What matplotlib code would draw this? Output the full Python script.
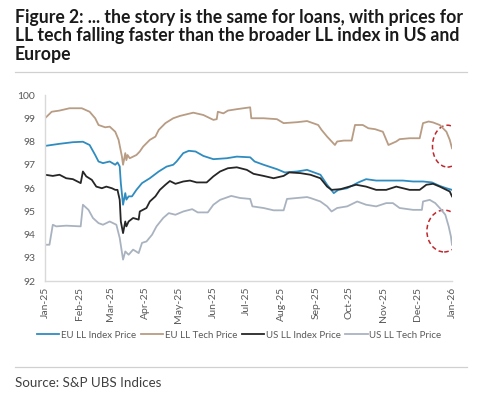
#!/usr/bin/env python3

import numpy as np
import matplotlib
matplotlib.use('Agg')
import matplotlib.pyplot as plt
import matplotlib.dates as mdates
from matplotlib.patches import Ellipse

plt.rcParams['font.family'] = ['Lato', 'DejaVu Sans']

# Series (day offset from 1 Jan 2025, price)
eu_tech_day = [0, 6, 13, 22, 33, 40, 45, 48, 54, 58, 63, 66, 69, 70, 72, 73, 74, 76, 82, 85,
	88, 94, 99, 102, 108, 115, 121, 133, 142, 151, 154, 155, 160, 164, 172, 184, 185, 196,
	208, 214, 226, 235, 245, 248, 253, 260, 262, 268, 275, 278, 285, 290, 296, 303, 308,
	315, 318, 327, 336, 339, 344, 348, 354, 360, 363, 365]
eu_tech_val = [99.0, 99.28, 99.33, 99.43, 99.43, 99.28, 99.0, 98.71, 98.61, 98.64, 98.42,
	98.07, 97.35, 97.0, 97.5, 97.2, 97.42, 97.28, 97.42, 97.57, 97.78, 98.07, 98.21, 98.5,
	98.79, 99.0, 99.1, 99.24, 99.14, 98.93, 98.96, 99.28, 99.21, 99.33, 99.39, 99.47, 99.0,
	99.0, 98.96, 98.79, 98.83, 98.88, 98.71, 98.5, 98.21, 97.85, 98.0, 98.04, 98.04, 98.71,
	98.71, 98.57, 98.53, 98.42, 97.85, 98.0, 98.1, 98.14, 98.14, 98.79, 98.86, 98.82, 98.71,
	98.42, 98.07, 97.71]

eu_idx_day = [0, 13, 25, 34, 40, 45, 48, 52, 58, 63, 65, 67, 68, 70, 72, 73, 75, 78, 82, 87,
	94, 102, 109, 115, 118, 124, 129, 135, 142, 151, 163, 172, 184, 188, 196, 208, 215, 226,
	235, 247, 253, 259, 263, 271, 281, 288, 297, 321, 330, 339, 347, 354, 360, 365]
eu_idx_val = [97.81, 97.9, 97.97, 97.99, 97.85, 97.42, 97.14, 97.07, 97.14, 97.0, 97.1, 96.93,
	96.21, 95.28, 95.78, 95.5, 95.64, 95.64, 95.92, 96.21, 96.42, 96.71, 96.92, 97.0, 97.14,
	97.5, 97.6, 97.57, 97.38, 97.24, 97.28, 97.35, 97.32, 97.14, 97.0, 96.81, 96.67, 96.71,
	96.78, 96.57, 96.14, 95.78, 95.92, 95.99, 96.24, 96.38, 96.32, 96.32, 96.28, 96.28, 96.24,
	96.09, 95.99, 95.92]

us_idx_day = [0, 7, 13, 19, 25, 32, 34, 37, 42, 46, 51, 55, 60, 63, 65, 67, 68, 70, 72, 73,
	75, 79, 84, 85, 91, 94, 99, 103, 108, 112, 117, 124, 130, 136, 145, 151, 157, 164, 172,
	181, 187, 196, 205, 214, 219, 229, 238, 247, 253, 257, 265, 273, 279, 288, 297, 306, 315,
	327, 336, 342, 348, 354, 360, 363, 365]
us_idx_val = [96.57, 96.52, 96.57, 96.42, 96.38, 96.21, 96.71, 96.5, 96.35, 96.06, 95.99,
	96.06, 95.99, 95.92, 95.92, 95.49, 94.56, 94.06, 94.56, 94.35, 94.56, 94.71, 94.64, 94.99,
	95.14, 95.42, 95.64, 95.92, 96.14, 96.3, 96.18, 96.28, 96.32, 96.24, 96.24, 96.5, 96.71,
	96.85, 96.89, 96.78, 96.61, 96.52, 96.42, 96.52, 96.67, 96.64, 96.57, 96.42, 96.06, 95.92,
	95.95, 96.06, 96.14, 96.06, 95.92, 95.92, 96.06, 95.92, 95.92, 96.14, 96.18, 96.06, 95.92,
	95.85, 95.64]

us_tech_day = [0, 4, 7, 10, 19, 32, 34, 39, 43, 48, 52, 58, 64, 67, 70, 72, 75, 79, 84, 87,
	91, 96, 100, 106, 111, 117, 124, 132, 137, 146, 151, 157, 167, 175, 184, 186, 196, 205,
	214, 217, 226, 235, 238, 247, 253, 257, 262, 271, 280, 288, 297, 306, 312, 318, 330, 338,
	339, 345, 350, 354, 359, 362, 364, 365]
us_tech_val = [93.56, 93.56, 94.42, 94.35, 94.38, 94.35, 95.28, 95.06, 94.71, 94.49, 94.42,
	94.56, 94.42, 93.85, 92.92, 93.27, 93.13, 93.35, 93.2, 93.64, 93.7, 93.99, 94.35, 94.71,
	94.92, 94.85, 94.99, 95.09, 94.95, 94.95, 95.28, 95.49, 95.66, 95.57, 95.53, 95.21, 95.14,
	95.04, 95.04, 95.53, 95.57, 95.61, 95.57, 95.42, 95.21, 94.99, 95.14, 95.21, 95.42, 95.28,
	95.21, 95.35, 95.35, 95.14, 95.06, 95.06, 95.42, 95.49, 95.35, 95.14, 94.85, 94.35, 93.92,
	93.56]

series_names = ['EU LL Index Price', 'EU LL Tech Price', 'US LL Index Price', 'US LL Tech Price']
series_colors = ['#2f8cc0', '#b89c84', '#262626', '#a9b3c0']

start = np.datetime64('2025-01-01')

def to_dates(days):
	return start + np.array(days, dtype='timedelta64[D]')

fig = plt.figure(figsize=(5.0, 3.96), dpi=100)
ax = fig.add_axes([0.09, 0.2904, 0.814, 0.4697])

data = [(eu_idx_day, eu_idx_val), (eu_tech_day, eu_tech_val),
	(us_idx_day, us_idx_val), (us_tech_day, us_tech_val)]
for (d, v), name, col in zip(data, series_names, series_colors):
	ax.plot(to_dates(d), v, color=col, linewidth=1.3, label=name)

# red dashed circles on the latest moves
end = mdates.date2num(np.datetime64('2026-01-01'))
for cx, cy, w, h in [(end - 4, 97.8, 27, 1.8), (end - 7, 94.15, 31, 1.8)]:
	ax.add_patch(Ellipse((cx, cy), w, h, fill=False, edgecolor='#c0272d',
		linestyle=(0, (3, 2)), linewidth=1.1))

ax.set_xlim(np.datetime64('2025-01-01'), np.datetime64('2026-01-01'))
ax.set_ylim(92, 100)
ax.set_yticks(range(92, 101))
ax.xaxis.set_major_locator(mdates.MonthLocator())
ax.xaxis.set_major_formatter(mdates.DateFormatter('%b-%y'))
for lab in ax.get_xticklabels():
	lab.set_rotation(90)
ax.tick_params(axis='both', length=0, colors='#595959', labelsize=7.5)
ax.tick_params(axis='x', pad=4)
ax.tick_params(axis='y', pad=7)
for s in ['top', 'right']:
	ax.spines[s].set_visible(False)
for s in ['left', 'bottom']:
	ax.spines[s].set_color('#d9d9d9')
	ax.spines[s].set_linewidth(1.0)

ax.legend(loc='upper center', bbox_to_anchor=(0.477, -0.22), ncol=4, frameon=False,
	fontsize=7.0, handlelength=2.3, handletextpad=0.15, columnspacing=0.5,
	labelcolor='#595959')

fig.text(0.03, 0.978, 'Figure 2: ... the story is the same for loans, with prices for\n'
	'LL tech falling faster than the broader LL index in US and\nEurope',
	ha='left', va='top', fontsize=12.7, fontweight='bold', color='#1a1a1a', linespacing=1.12)

fig.add_artist(plt.Line2D([0.03, 0.934], [1 - 71.5 / 396] * 2, color='#d0d0d0', linewidth=0.9))
fig.add_artist(plt.Line2D([0.03, 0.934], [1 - 367 / 396] * 2, color='#d0d0d0', linewidth=0.9))
fig.text(0.03, 1 - 383 / 396, 'Source: S&P UBS Indices', ha='left', va='center',
	fontsize=9.6, color='#404040')

fig.savefig('out.png', dpi=100)
